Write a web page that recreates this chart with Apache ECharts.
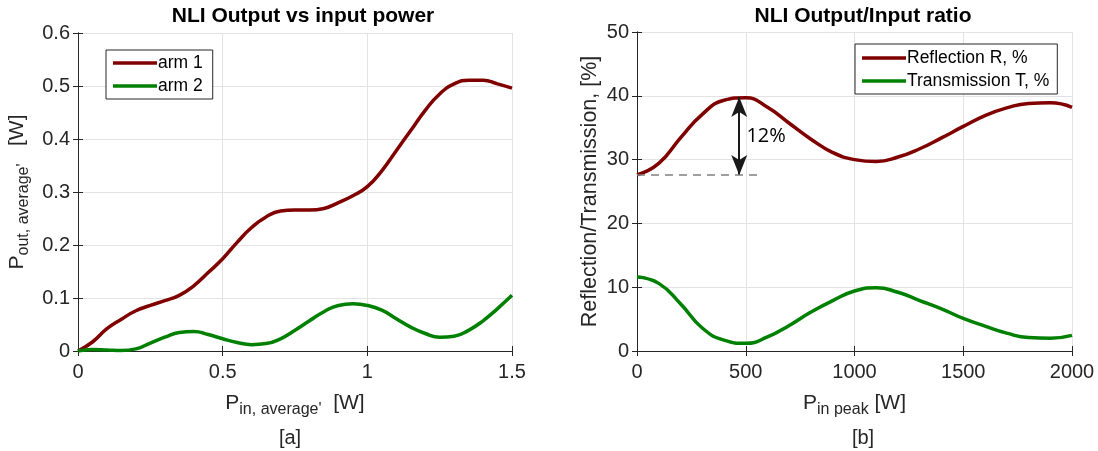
<!DOCTYPE html>
<html>
<head>
<meta charset="utf-8">
<script src="https://cdn.jsdelivr.net/npm/echarts@6/dist/echarts.min.js"></script>
<style>
  html, body { margin: 0; padding: 0; background: #fff; }
  #chart { width: 1098px; height: 451px; }
</style>
</head>
<body>
<div id="chart"></div>
<script>
// panel [a]: output power vs input power
const pinAvg = [0, 0.05, 0.1, 0.15, 0.2, 0.25, 0.3, 0.35, 0.4, 0.45, 0.5, 0.55, 0.6, 0.65, 0.7, 0.75,
  0.8, 0.85, 0.9, 0.95, 1.0, 1.05, 1.1, 1.15, 1.2, 1.25, 1.3, 1.35, 1.4, 1.45, 1.5];
const arm1 = [0, 0.017, 0.042, 0.06, 0.076, 0.086, 0.095, 0.105, 0.123, 0.148, 0.174, 0.205, 0.233, 0.253, 0.264, 0.266,
  0.266, 0.269, 0.28, 0.293, 0.31, 0.34, 0.378, 0.416, 0.454, 0.485, 0.504, 0.511, 0.511, 0.504, 0.496];
const arm2 = [0, 0.003, 0.002, 0.001, 0.004, 0.015, 0.026, 0.035, 0.037, 0.031, 0.023, 0.016, 0.012, 0.014, 0.023, 0.039,
  0.057, 0.074, 0.086, 0.089, 0.086, 0.077, 0.061, 0.045, 0.033, 0.026, 0.028, 0.039, 0.057, 0.08, 0.105];

// panel [b]: reflection / transmission vs peak power
const pinPeak = [0, 100, 200, 300, 400, 500, 600, 700, 800, 900, 1000, 1100, 1200, 1300, 1400, 1500,
  1600, 1700, 1800, 1900, 2000];
const reflR = [27.6, 29.4, 33.4, 37.1, 39.3, 39.7, 38.2, 35.7, 33.2, 31.1, 30.0, 29.7, 30.4, 31.7, 33.4, 35.2,
  36.9, 38.1, 38.8, 38.9, 38.2];
const transT = [11.6, 10.6, 7.4, 3.6, 1.7, 1.2, 2.2, 4.0, 6.1, 7.9, 9.4, 9.9, 9.2, 7.9, 6.6, 5.1,
  3.9, 2.8, 2.1, 2.0, 2.45];

// annotation: 12% swing from the start level to the first peak
const baseLevel = [[0, 27.6], [560, 27.6]];
const swingArrow = [[470, 27.6], [470, 39.8]];
const swingLabel = [480, 33.6, "12%"];

const RED = "#800000";
const GREEN = "#008000";
const AXIS = "#262626";
const FONT = "Liberation Sans, Arial, sans-serif";

const pairs = (xs, ys) => xs.map((x, i) => [x, ys[i]]);

const subRich = {
  p: { fontSize: 21, color: AXIS, fontFamily: FONT },
  s: { fontSize: 16, color: AXIS, fontFamily: FONT, padding: [14, 0, 0, 0] }
};

const mainAxis = (extra) => Object.assign({
  type: "value",
  axisLine: { show: true, lineStyle: { color: AXIS, width: 1 } },
  axisTick: { show: true, inside: true, length: 5, lineStyle: { color: AXIS } },
  axisLabel: { color: AXIS, fontSize: 20, fontFamily: FONT, margin: 8,
    formatter: (v) => String(v) },
  splitLine: { show: true, lineStyle: { color: "#e3e3e3", width: 1 } }
}, extra);

const boxAxis = (extra) => Object.assign({
  type: "value",
  axisLine: { show: true, lineStyle: { color: AXIS, width: 1 } },
  axisTick: { show: true, inside: true, length: 5, lineStyle: { color: AXIS } },
  axisLabel: { show: false },
  splitLine: { show: false }
}, extra);

const lineSeries = (name, x, y, color, xi, yi) => ({
  name: name,
  type: "line",
  xAxisIndex: xi,
  yAxisIndex: yi,
  smooth: 0.5,
  showSymbol: false,
  symbol: "none",
  lineStyle: { color: color, width: 3.5 },
  itemStyle: { color: color },
  data: pairs(x, y),
  z: 3
});

const legendBase = {
  orient: "vertical",
  icon: "rect", itemWidth: 44, itemHeight: 3.5, itemGap: 3,
  borderColor: AXIS, borderWidth: 1, backgroundColor: "#fff",
  textStyle: { fontSize: 17.5, lineHeight: 20, color: "#000", fontFamily: FONT, padding: [0, 0, 0, -4] }
};

const xLabelStyle = { margin: 11 };

const option = {
  animation: false,
  backgroundColor: "#fff",
  title: [
    { text: "NLI Output vs input power", left: 298, top: 1, textAlign: "center",
      textStyle: { fontSize: 21, fontWeight: "bold", color: "#000", fontFamily: FONT } },
    { text: "NLI Output/Input ratio", left: 858, top: 1, textAlign: "center",
      textStyle: { fontSize: 21, fontWeight: "bold", color: "#000", fontFamily: FONT } },
    { text: "[a]", left: 285, top: 423, textAlign: "center",
      textStyle: { fontSize: 20, fontWeight: "normal", color: AXIS, fontFamily: FONT } },
    { text: "[b]", left: 858, top: 423, textAlign: "center",
      textStyle: { fontSize: 20, fontWeight: "normal", color: AXIS, fontFamily: FONT } }
  ],
  grid: [
    { left: 78, top: 33, width: 434, height: 318 },
    { left: 637, top: 32, width: 435, height: 319 }
  ],
  legend: [
    Object.assign({}, legendBase, {
      data: ["arm 1", "arm 2"], left: 106, top: 50, padding: [3, 10, 3, 7]
    }),
    Object.assign({}, legendBase, {
      data: ["Reflection R, %", "Transmission T, %"], left: 855, top: 44, padding: [4, 8, 3, 7]
    })
  ],
  xAxis: [
    mainAxis({
      gridIndex: 0, min: 0, max: 1.5, interval: 0.5,
      axisLabel: Object.assign({}, mainAxis({}).axisLabel, xLabelStyle),
      name: "{p|P}{s|in, average'}{p|  [W]}",
      nameLocation: "middle", nameGap: 37,
      nameTextStyle: { rich: subRich }
    }),
    mainAxis({
      gridIndex: 1, min: 0, max: 2000, interval: 500,
      axisLabel: Object.assign({}, mainAxis({}).axisLabel, xLabelStyle),
      name: "{p|P}{s|in peak}{p| [W]}",
      nameLocation: "middle", nameGap: 37,
      nameTextStyle: { rich: subRich }
    }),
    boxAxis({ gridIndex: 0, position: "top", min: 0, max: 1.5, interval: 0.5 }),
    boxAxis({ gridIndex: 1, position: "top", min: 0, max: 2000, interval: 500 })
  ],
  yAxis: [
    mainAxis({
      gridIndex: 0, min: 0, max: 0.6, interval: 0.1,
      name: "{p|P}{s|out, average'}{p|   [W]}",
      nameLocation: "middle", nameGap: 46, nameRotate: 90,
      nameTextStyle: { rich: subRich }
    }),
    mainAxis({
      gridIndex: 1, min: 0, max: 50, interval: 10,
      name: "Reflection/Transmission, [%]",
      nameLocation: "middle", nameGap: 36, nameRotate: 90,
      nameTextStyle: { fontSize: 21.5, color: AXIS, fontFamily: FONT }
    }),
    boxAxis({ gridIndex: 0, position: "right", min: 0, max: 0.6, interval: 0.1 }),
    boxAxis({ gridIndex: 1, position: "right", min: 0, max: 50, interval: 10 })
  ],
  series: [
    lineSeries("arm 1", pinAvg, arm1, RED, 0, 0),
    lineSeries("arm 2", pinAvg, arm2, GREEN, 0, 0),
    Object.assign(lineSeries("Reflection R, %", pinPeak, reflR, RED, 1, 1), {
      markLine: {
        silent: true,
        symbol: ["arrow", "arrow"],
        symbolSize: [12, 20],
        label: { show: false },
        lineStyle: { color: "#1a1a1a", width: 2, type: "solid" },
        data: [[{ coord: swingArrow[0] }, { coord: swingArrow[1] }]]
      },
      markPoint: {
        silent: true,
        symbol: "circle",
        symbolSize: 0,
        label: {
          show: true, position: "right", formatter: swingLabel[2],
          fontSize: 20, color: "#000", fontFamily: "Open Sans, sans-serif"
        },
        data: [{ coord: [swingLabel[0], swingLabel[1]] }]
      }
    }),
    Object.assign(lineSeries("Transmission T, %", pinPeak, transT, GREEN, 1, 1), {
      markLine: {
        silent: true,
        symbol: ["none", "none"],
        label: { show: false },
        lineStyle: { color: "#808080", width: 1.5, type: [8, 6] },
        data: [[{ coord: baseLevel[0] }, { coord: baseLevel[1] }]]
      }
    })
  ]
};

const chart = echarts.init(document.getElementById("chart"));
chart.setOption(option);
</script>
</body>
</html>
